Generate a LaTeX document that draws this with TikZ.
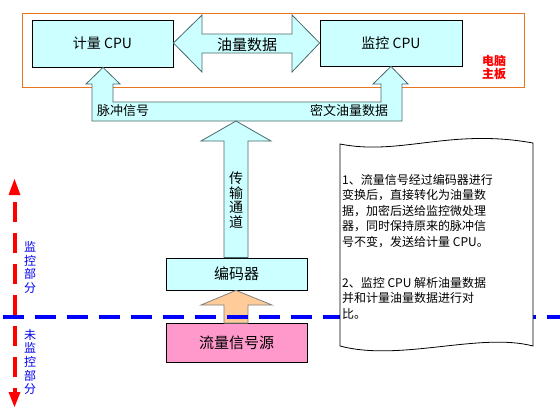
\documentclass[tikz,border=0pt]{standalone}
\usepackage{fontspec}
\setmainfont{Noto Sans CJK SC}
\definecolor{cyanfill}{HTML}{CCFFFF}
\definecolor{pinkfill}{HTML}{FF99CC}
\definecolor{peachfill}{HTML}{FFCC99}
\definecolor{arrowline}{HTML}{4A6A6A}
\definecolor{boardline}{HTML}{E8741E}
\definecolor{labelblue}{HTML}{0000EE}
\begin{document}
\begin{tikzpicture}[x=1pt,y=-1pt,
  cpubox/.style={draw=black, line width=0.8pt, fill=cyanfill, inner sep=0pt,
    font=\fontsize{14}{16}\selectfont},
  blockarrow/.style={draw=arrowline, line width=0.8pt, fill=cyanfill, line join=miter},
  lbl/.style={inner sep=0pt, font=\fontsize{13}{15}\selectfont},
  vlbl/.style={inner sep=0pt, align=center, text=labelblue,
    font=\fontsize{12}{13.7}\selectfont},
  doctext/.style={inner sep=0pt, align=left, anchor=north west,
    font=\fontsize{12}{15.5}\selectfont}]
\useasboundingbox (0,0) rectangle (560,408);
\fill[white] (0,0) rectangle (560,408);

% main board frame
\node[draw=boardline, line width=0.8pt, minimum width=502pt, minimum height=74pt, inner sep=0pt] (board) at (273,50) {};
\node[inner sep=0pt, align=center, text=red, font=\bfseries\fontsize{12}{13}\selectfont] (boardlbl) at (494,67) {电脑\\主板};

% CPU boxes
\node[cpubox, minimum width=141pt, minimum height=47pt] (jl) at (102.5,43.5) {计量 CPU};
\node[cpubox, minimum width=142pt, minimum height=46pt] (jk) at (391,43) {监控 CPU};

% double block arrow between CPUs
\draw[blockarrow] (jl.east |- 0,43) -- (202,15) -- (202,34) -- (292,34) -- (292,15)
  -- (jk.west |- 0,43) -- (292,72) -- (292,53) -- (202,53) -- (202,72) -- cycle;
\node[inner sep=0pt, font=\fontsize{15}{17}\selectfont] (oil) at (247,45) {油量数据};

% U-shaped block arrow
\draw[blockarrow] (92,84) -- (86,84) -- (jl.south -| 103,0) -- (120,84) -- (113,84)
  -- (113,102) -- (381,102) -- (381,84) -- (373,84) -- (jk.south -| 391,0) -- (408,84)
  -- (402,84) -- (402,121) -- (92,121) -- cycle;
\node[lbl] (pulse) at (123,111) {脉冲信号};
\node[lbl] (cipher) at (349,111) {密文油量数据};

% encoder and source boxes
\node[cpubox, minimum width=141pt, minimum height=32pt, font=\fontsize{15}{17}\selectfont] (enc) at (236.5,274) {编码器};
\node[cpubox, fill=pinkfill, minimum width=141pt, minimum height=39pt, font=\fontsize{15}{17}\selectfont] (src) at (236.5,343) {流量信号源};

% transmission arrow
\draw[blockarrow] (224,0 |- enc.north) -- (224,141) -- (201,141) -- (236,121) -- (271,141)
  -- (248,141) -- (248,0 |- enc.north) -- cycle;
\node[inner sep=0pt, align=center, font=\fontsize{14}{14.7}\selectfont] (chan) at (236,200) {传\\输\\通\\道};

% orange arrow from source to encoder
\draw[blockarrow, fill=peachfill, draw=gray] (224,0 |- src.north) -- (224,305) -- (201,305)
  -- (236,0 |- enc.south) -- (272,305) -- (248,305) -- (248,0 |- src.north) -- cycle;

% blue dashed boundary
\draw[blue, line width=4.5pt, dash pattern=on 21pt off 11pt] (3,317) -- (560,317);

% red vertical dashed double arrow
\draw[red, line width=4pt, dash pattern=on 20pt off 11pt] (14.5,202) -- (14.5,392);
\fill[red] (8.5,195) -- (14.5,179) -- (20.5,195) -- cycle;
\fill[red] (8.5,392) -- (14.5,407) -- (20.5,392) -- cycle;
\node[vlbl] (mon) at (30,267.5) {监\\控\\部\\分};
\node[vlbl] (unmon) at (30,362) {未\\监\\控\\部\\分};

% note document shape
\draw[black, line width=0.8pt, fill=white] (340,144) .. controls (400,156) and (450,128) .. (533,143)
  -- (533,346) .. controls (480,332) and (400,362) .. (340,346) -- cycle;
\node[doctext] (note1) at (342,174) {1、流量信号经过编码器进行\\变换后，直接转化为油量数\\据，加密后送给监控微处理\\器，同时保持原来的脉冲信\\号不变，发送给计量 CPU。};
\node[doctext] (note2) at (342,277) {2、监控 CPU 解析油量数据\\并和计量油量数据进行对\\比。};
\end{tikzpicture}
\end{document}
